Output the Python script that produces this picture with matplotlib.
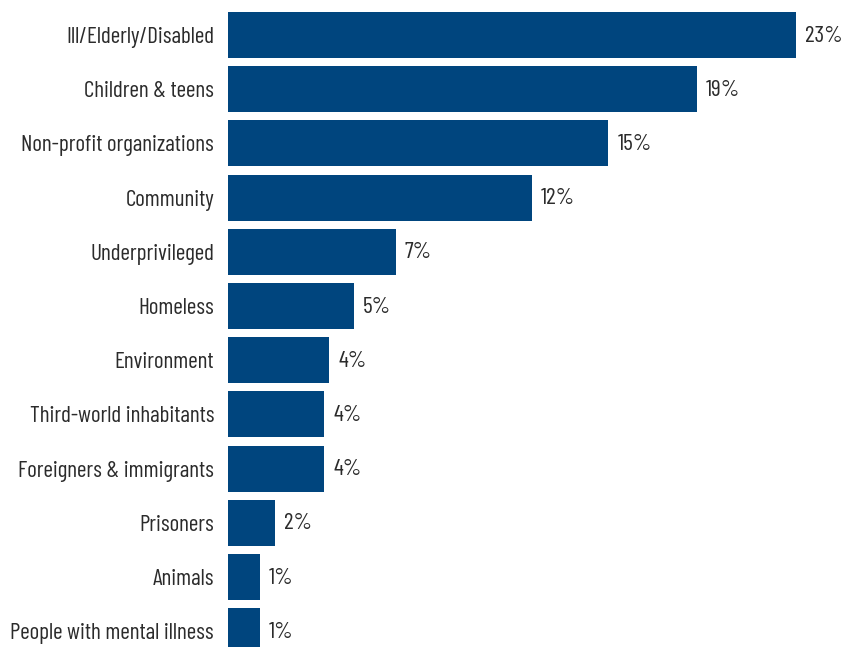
import matplotlib
matplotlib.use("Agg")
import matplotlib.pyplot as plt

plt.rcParams["font.family"] = ["Barlow Condensed", "Roboto Condensed", "DejaVu Sans"]

categories = ["Ill/Elderly/Disabled", "Children & teens", "Non-profit organizations",
              "Community", "Underprivileged", "Homeless", "Environment",
              "Third-world inhabitants", "Foreigners & immigrants", "Prisoners",
              "Animals", "People with mental illness"]
shares = [23.0, 19.0, 15.4, 12.3, 6.8, 5.1, 4.1, 3.9, 3.9, 1.9, 1.3, 1.3]

bar_color = "#00457e"
text_color = "#2b2b2b"

fig = plt.figure(figsize=(8.46, 6.47), dpi=100)
ax = fig.add_axes([228 / 846, 0, 618 / 846, 1])

ypos = list(range(len(categories)))
ax.barh(ypos, shares, height=0.85, color=bar_color)

# percentage labels just past the end of each bar
for y, v in zip(ypos, shares):
    ax.text(v + 0.36, y + 0.02, f"{round(v)}%", va="center", ha="left",
            fontsize=17, color=text_color)

ax.set_xlim(0, 618 / 24.7)
ax.set_ylim((647 - 35) / 54.2, -35 / 54.2)
ax.set_yticks(ypos)
ax.set_yticklabels(categories, fontsize=16.7, color=text_color)
ax.tick_params(axis="y", length=0, pad=10)
ax.set_xticks([])
for s in ax.spines.values():
    s.set_visible(False)

fig.savefig("out.png", dpi=100)
